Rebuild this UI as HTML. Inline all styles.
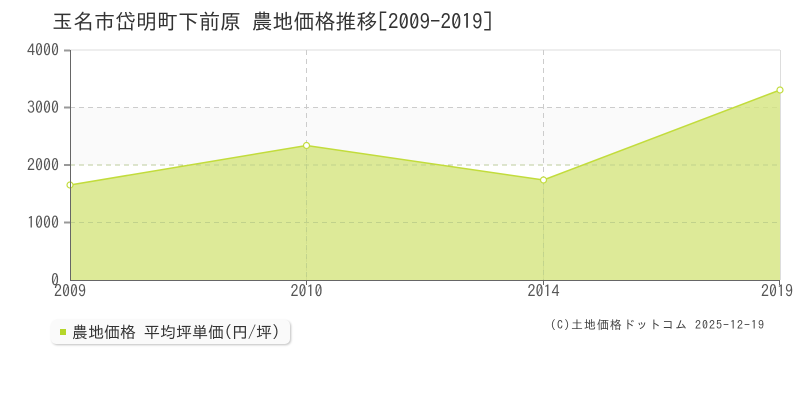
<!DOCTYPE html>
<html><head><meta charset="utf-8"><style>
html,body{margin:0;padding:0;background:#fff;}
body{width:800px;height:400px;position:relative;overflow:hidden;font-family:"IPAGothic","Liberation Sans",sans-serif;}
svg{position:absolute;left:0;top:0;}
.title{position:absolute;left:52px;top:9px;font-size:21px;line-height:26px;color:#333;white-space:nowrap;font-family:"IPAGothic",sans-serif;}
.legend{position:absolute;left:51px;top:320px;width:239px;height:24px;background:#fafafa;border-radius:5px;box-shadow:1px 1px 2px rgba(0,0,0,0.25);}
.legend .sq{position:absolute;left:9px;top:9px;width:6px;height:6px;background:#b5d62a;}
.legend .t{position:absolute;left:21px;top:3px;font-size:16px;line-height:18px;color:#333;white-space:nowrap;font-family:"IPAGothic",sans-serif;}
.copy{position:absolute;left:550px;top:318px;font-size:12px;line-height:14px;color:#444;white-space:nowrap;letter-spacing:1px;font-family:"IPAGothic",monospace;}
</style></head><body>
<svg width="800" height="400" viewBox="0 0 800 400">
  <rect x="70" y="107.5" width="710" height="57.5" fill="#fafafa"/>
  <line x1="70" y1="50" x2="780" y2="50" stroke="#ddd" stroke-width="1"/>
  <line x1="780.5" y1="50" x2="780.5" y2="280" stroke="#ddd" stroke-width="1"/>
  <g stroke="#ccc" stroke-width="1" stroke-dasharray="5,4">
    <line x1="70" y1="107.5" x2="780" y2="107.5"/>
    <line x1="70" y1="165" x2="780" y2="165"/>
    <line x1="70" y1="222.5" x2="780" y2="222.5"/>
    <line x1="306.5" y1="50" x2="306.5" y2="280"/>
    <line x1="543.5" y1="50" x2="543.5" y2="280"/>
  </g>
  <polygon points="70,185 306.5,145.5 543.5,180 780,90 780,280 70,280" fill="#d4e57e" fill-opacity="0.8"/>
  <g stroke="#b8cc8a" stroke-width="1" stroke-dasharray="5,4" opacity="0.7">
    <line x1="70" y1="165" x2="780" y2="165"/>
    <line x1="70" y1="222.5" x2="780" y2="222.5"/>
    <line x1="306.5" y1="146" x2="306.5" y2="280"/>
    <line x1="543.5" y1="180" x2="543.5" y2="280"/>
  </g>
  <polyline points="70,185 306.5,145.5 543.5,180 780,90" fill="none" stroke="#c2dc3c" stroke-width="1.5"/>
  <g fill="#fff" stroke="#c2dc3c" stroke-width="1.2">
    <circle cx="70" cy="185" r="3"/>
    <circle cx="306.5" cy="145.5" r="3"/>
    <circle cx="543.5" cy="180" r="3"/>
    <circle cx="780" cy="90" r="3"/>
  </g>
  <line x1="70.5" y1="50" x2="70.5" y2="280" stroke="#666" stroke-width="1"/>
  <line x1="70" y1="280.5" x2="780" y2="280.5" stroke="#666" stroke-width="1"/>
  <g stroke="#999" stroke-width="2">
    <line x1="64" y1="50.5" x2="70" y2="50.5"/>
    <line x1="64" y1="107.5" x2="70" y2="107.5"/>
    <line x1="64" y1="165" x2="70" y2="165"/>
    <line x1="64" y1="222.5" x2="70" y2="222.5"/>
  </g>
  <g stroke="#666" stroke-width="1">
    <line x1="306.5" y1="280" x2="306.5" y2="285"/>
    <line x1="543.5" y1="280" x2="543.5" y2="285"/>
    <line x1="779.5" y1="280" x2="779.5" y2="285"/>
  </g>
  <g font-family="IPAGothic, sans-serif" font-size="16" fill="#555" text-anchor="end">
    <text x="59" y="56">4000</text>
    <text x="59" y="113.5">3000</text>
    <text x="59" y="171">2000</text>
    <text x="59" y="228.5">1000</text>
    <text x="59" y="286">0</text>
  </g>
  <g font-family="IPAGothic, sans-serif" font-size="16" fill="#555" text-anchor="middle">
    <text x="70" y="297">2009</text>
    <text x="306.5" y="297">2010</text>
    <text x="543.5" y="297">2014</text>
    <text x="777" y="297">2019</text>
  </g>
</svg>
<div class="title">玉名市岱明町下前原 農地価格推移[2009-2019]</div>
<div class="legend"><div class="sq"></div><div class="t">農地価格 平均坪単価(円/坪)</div></div>
<div class="copy">(C)土地価格ドットコム 2025-12-19</div>
</body></html>
